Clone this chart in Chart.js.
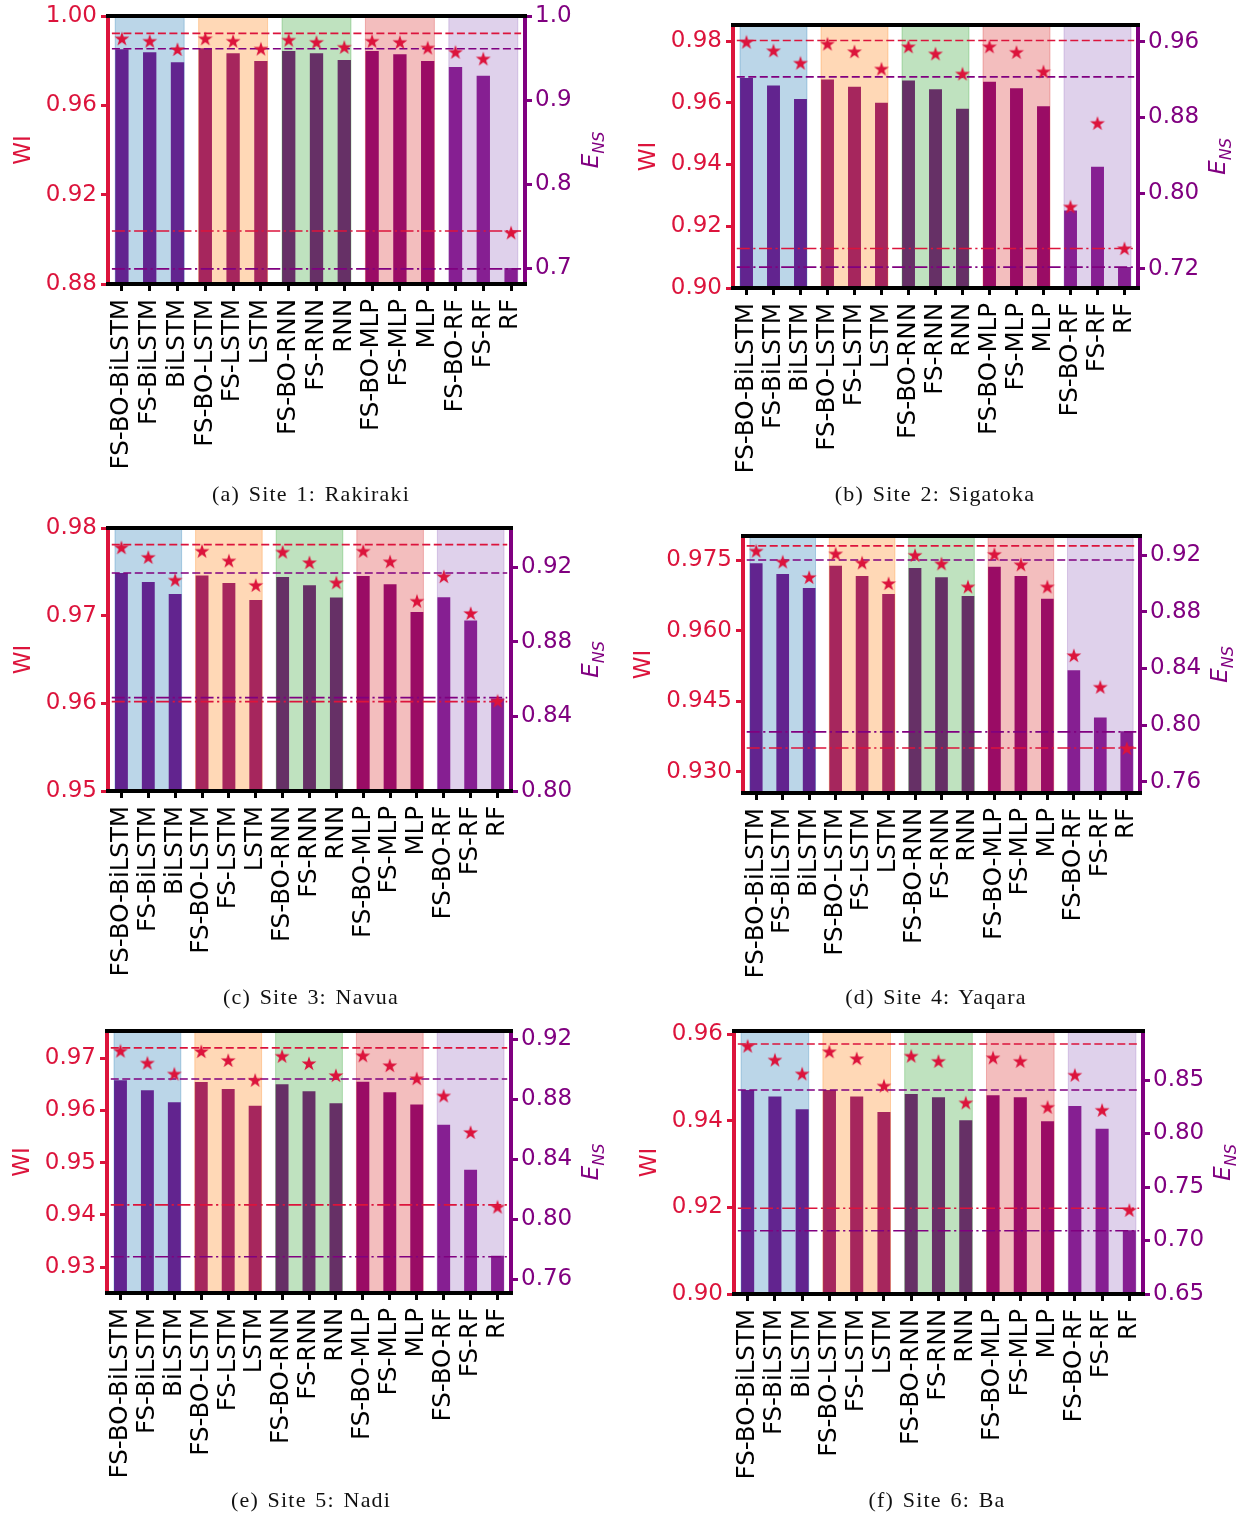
<!DOCTYPE html>
<html>
<head>
<meta charset="utf-8">
<script src="https://cdn.jsdelivr.net/npm/chart.js@4.4.1/dist/chart.umd.min.js"></script>
<style>
  html, body { margin: 0; padding: 0; background: #fff; }
  body { position: relative; width: 1239px; height: 1514px; overflow: hidden; }
  canvas { position: absolute; }
  .cap {
    position: absolute; white-space: nowrap; color: #111;
    font-family: "Liberation Serif", "DejaVu Serif", serif; font-size: 22px;
    letter-spacing: 1.2px; word-spacing: 2px;
    transform: translate(-50%, -50%);
  }
</style>
</head>
<body>
<script>
// ---- data -------------------------------------------------------------
const models = ['FS-BO-BiLSTM', 'FS-BiLSTM', 'BiLSTM', 'FS-BO-LSTM', 'FS-LSTM', 'LSTM',
                'FS-BO-RNN', 'FS-RNN', 'RNN', 'FS-BO-MLP', 'FS-MLP', 'MLP',
                'FS-BO-RF', 'FS-RF', 'RF'];
// model families shaded behind the bars (first and last index of each family)
const families = [[0, 2], [3, 5], [6, 8], [9, 11], [12, 14]];

const captions = ['(a) Site 1: Rakiraki', '(b) Site 2: Sigatoka', '(c) Site 3: Navua',
                  '(d) Site 4: Yaqara', '(e) Site 5: Nadi', '(f) Site 6: Ba'];

// Willmott index (stars, left axis) and Nash–Sutcliffe efficiency (bars, right axis)
const wiRakiraki  = [0.9896, 0.9885, 0.9848, 0.9896, 0.9885, 0.9850, 0.9890, 0.9880, 0.9858, 0.9885, 0.9880, 0.9855, 0.9836, 0.9806, 0.9027];
const ensRakiraki = [0.9604, 0.9568, 0.9449, 0.9615, 0.9556, 0.9464, 0.9583, 0.9556, 0.9476, 0.9583, 0.9544, 0.9464, 0.9393, 0.9290, 0.7000];
const wiSigatoka  = [0.9795, 0.9767, 0.9727, 0.9789, 0.9764, 0.9708, 0.9780, 0.9757, 0.9692, 0.9780, 0.9762, 0.9699, 0.9261, 0.9532, 0.9126];
const ensSigatoka = [0.9217, 0.9136, 0.8994, 0.9199, 0.9122, 0.8955, 0.9189, 0.9096, 0.8891, 0.9175, 0.9107, 0.8916, 0.7815, 0.8278, 0.7217];
const wiNavua     = [0.9777, 0.9766, 0.9740, 0.9773, 0.9762, 0.9734, 0.9772, 0.9760, 0.9737, 0.9773, 0.9761, 0.9716, 0.9744, 0.9702, 0.9602];
const ensNavua    = [0.9168, 0.9120, 0.9055, 0.9154, 0.9114, 0.9023, 0.9147, 0.9102, 0.9036, 0.9152, 0.9107, 0.8959, 0.9038, 0.8913, 0.8495];
const wiYaqara    = [0.9768, 0.9745, 0.9712, 0.9762, 0.9743, 0.9699, 0.9759, 0.9741, 0.9692, 0.9761, 0.9739, 0.9692, 0.9546, 0.9479, 0.9349];
const ensYaqara   = [0.9141, 0.9066, 0.8967, 0.9125, 0.9052, 0.8925, 0.9108, 0.9043, 0.8911, 0.9118, 0.9052, 0.8892, 0.8388, 0.8055, 0.7958];
const wiNadi      = [0.9713, 0.9690, 0.9669, 0.9712, 0.9695, 0.9657, 0.9703, 0.9689, 0.9666, 0.9704, 0.9685, 0.9660, 0.9627, 0.9557, 0.9414];
const ensNadi     = [0.8927, 0.8860, 0.8780, 0.8915, 0.8869, 0.8757, 0.8900, 0.8853, 0.8773, 0.8917, 0.8847, 0.8764, 0.8629, 0.8329, 0.7755];
const wiBa        = [0.9571, 0.9539, 0.9507, 0.9558, 0.9542, 0.9479, 0.9548, 0.9536, 0.9440, 0.9544, 0.9536, 0.9430, 0.9504, 0.9423, 0.9192];
const ensBa       = [0.8407, 0.8347, 0.8226, 0.8407, 0.8347, 0.8201, 0.8369, 0.8338, 0.8123, 0.8357, 0.8338, 0.8114, 0.8257, 0.8045, 0.7095];

// reference levels [upper (dashed), lower (dash-dot)]
const wiRefRakiraki = [0.9922, 0.9037], ensRefRakiraki = [0.9610, 0.6990];
const wiRefSigatoka = [0.9802, 0.9128], ensRefSigatoka = [0.9228, 0.7217];
const wiRefNavua    = [0.9781, 0.9602], ensRefNavua    = [0.9168, 0.8500];
const wiRefYaqara   = [0.9780, 0.9351], ensRefYaqara   = [0.9165, 0.7953];
const wiRefNadi     = [0.9720, 0.9419], ensRefNadi     = [0.8935, 0.7749];
const wiRefBa       = [0.9577, 0.9198], ensRefBa       = [0.8407, 0.7091];

// tick labels of each axis
const wiTicksRakiraki = [0.88, 0.92, 0.96, 1.00], ensTicksRakiraki = [0.7, 0.8, 0.9, 1.0];
const wiTicksSigatoka = [0.90, 0.92, 0.94, 0.96, 0.98], ensTicksSigatoka = [0.72, 0.80, 0.88, 0.96];
const wiTicksNavua    = [0.95, 0.96, 0.97, 0.98], ensTicksNavua = [0.80, 0.84, 0.88, 0.92];
const wiTicksYaqara   = [0.930, 0.945, 0.960, 0.975], ensTicksYaqara = [0.76, 0.80, 0.84, 0.88, 0.92];
const wiTicksNadi     = [0.93, 0.94, 0.95, 0.96, 0.97], ensTicksNadi = [0.76, 0.80, 0.84, 0.88, 0.92];
const wiTicksBa       = [0.90, 0.92, 0.94, 0.96], ensTicksBa = [0.65, 0.70, 0.75, 0.80, 0.85];

// ---- styling / layout -------------------------------------------------
const CRIMSON = '#dc143c';
const PURPLE = '#800080';
const FAMILY_COLORS = ['#1f77b4', '#ff7f0e', '#2ca02c', '#d62728', '#9467bd'];
const FONT = 'DejaVu Sans';
const TICK_SIZE = 23;
const XLABEL_SIZE = 24.5;
const LEFT_W = 125, RIGHT_W = 110, TOP_PAD = 22, BOTTOM_H = 200;

// plot box [left, right, top, bottom], axis ranges and label decimals per panel
const panels = [
  { box: [108, 525, 16, 284],   wiRange: [0.88, 1.00],       ensRange: [0.681, 1.0],      wiDec: 2, ensDec: 1,
    wi: wiRakiraki, ens: ensRakiraki, wiRef: wiRefRakiraki, ensRef: ensRefRakiraki, wiTicks: wiTicksRakiraki, ensTicks: ensTicksRakiraki, cap: [311, 494] },
  { box: [733, 1138, 25, 288],  wiRange: [0.90, 0.9852],     ensRange: [0.6996, 0.9776],  wiDec: 2, ensDec: 2,
    wi: wiSigatoka, ens: ensSigatoka, wiRef: wiRefSigatoka, ensRef: ensRefSigatoka, wiTicks: wiTicksSigatoka, ensTicks: ensTicksSigatoka, cap: [935, 494] },
  { box: [108, 511, 528, 791],  wiRange: [0.95, 0.98],       ensRange: [0.80, 0.9409],    wiDec: 2, ensDec: 2,
    wi: wiNavua, ens: ensNavua, wiRef: wiRefNavua, ensRef: ensRefNavua, wiTicks: wiTicksNavua, ensTicks: ensTicksNavua, cap: [311, 997] },
  { box: [743, 1140, 536, 793], wiRange: [0.92554, 0.9801],  ensRange: [0.7522, 0.9334],  wiDec: 3, ensDec: 2,
    wi: wiYaqara, ens: ensYaqara, wiRef: wiRefYaqara, ensRef: ensRefYaqara, wiTicks: wiTicksYaqara, ensTicks: ensTicksYaqara, cap: [936, 997] },
  { box: [107, 511, 1031, 1293], wiRange: [0.92502, 0.97523], ensRange: [0.75067, 0.92553], wiDec: 2, ensDec: 2,
    wi: wiNadi, ens: ensNadi, wiRef: wiRefNadi, ensRef: ensRefNadi, wiTicks: wiTicksNadi, ensTicks: ensTicksNadi, cap: [311, 1500] },
  { box: [734, 1143, 1031, 1294], wiRange: [0.90, 0.9607],   ensRange: [0.65, 0.8958],    wiDec: 2, ensDec: 2,
    wi: wiBa, ens: ensBa, wiRef: wiRefBa, ensRef: ensRefBa, wiTicks: wiTicksBa, ensTicks: ensTicksBa, cap: [937, 1500] }
];

Chart.defaults.font.family = FONT;

// filled five-pointed star used as the WI marker
function starSprite(r, color) {
  const s = Math.ceil(2 * r + 2);
  const c = document.createElement('canvas');
  c.width = s; c.height = s;
  const g = c.getContext('2d');
  g.translate(s / 2, s / 2);
  g.beginPath();
  for (let k = 0; k < 10; k++) {
    const rr = k % 2 ? r * 0.382 : r;
    const ang = -Math.PI / 2 + k * Math.PI / 5;
    g.lineTo(rr * Math.cos(ang), rr * Math.sin(ang));
  }
  g.closePath();
  g.fillStyle = color;
  g.fill();
  return c;
}
const STAR = starSprite(7.8, CRIMSON);

function hexA(hex, a) {
  const n = parseInt(hex.slice(1), 16);
  return `rgba(${n >> 16},${(n >> 8) & 255},${n & 255},${a})`;
}

// shaded families, reference lines, spines and axis titles
function decoPlugin(p) {
  return {
    id: 'panelDeco',
    afterDatasetDraw(chart, args) {
      if (args.index !== 0) return;
      const { ctx, chartArea: a, scales } = chart;
      const xs = scales.x;
      const half = chart.getDatasetMeta(0).data[0].width / 2;
      ctx.save();
      ctx.beginPath();
      ctx.rect(a.left, a.top, a.right - a.left, a.bottom - a.top);
      ctx.clip();
      families.forEach((f, i) => {
        const x0 = xs.getPixelForValue(f[0]) - half;
        const x1 = xs.getPixelForValue(f[1]) + half;
        ctx.fillStyle = hexA(FAMILY_COLORS[i], 0.3);
        ctx.fillRect(x0, a.top, x1 - x0, a.bottom - a.top);
        ctx.strokeStyle = hexA(FAMILY_COLORS[i], 0.3);
        ctx.lineWidth = 1;
        ctx.strokeRect(x0, a.top, x1 - x0, a.bottom - a.top);
      });
      const step = xs.getPixelForValue(1) - xs.getPixelForValue(0);
      const xa = xs.getPixelForValue(0) - 0.36 * step;
      const xb = xs.getPixelForValue(models.length - 1) + 0.36 * step;
      const hline = (yPix, color, dash) => {
        ctx.beginPath();
        ctx.setLineDash(dash);
        ctx.strokeStyle = color;
        ctx.lineWidth = 1.6;
        ctx.moveTo(xa, yPix);
        ctx.lineTo(xb, yPix);
        ctx.stroke();
      };
      const DASH = [8, 3.5], DASHDOT = [13, 3.5, 2.2, 3.5];
      hline(scales.y.getPixelForValue(p.wiRef[0]), CRIMSON, DASH);
      hline(scales.y.getPixelForValue(p.wiRef[1]), CRIMSON, DASHDOT);
      hline(scales.y1.getPixelForValue(p.ensRef[0]), PURPLE, DASH);
      hline(scales.y1.getPixelForValue(p.ensRef[1]), PURPLE, DASHDOT);
      ctx.restore();
    },
    afterDraw(chart) {
      const { ctx, chartArea: a } = chart;
      ctx.save();
      ctx.setLineDash([]);
      ctx.lineWidth = 4;
      ctx.strokeStyle = CRIMSON;
      ctx.beginPath(); ctx.moveTo(a.left, a.top - 2); ctx.lineTo(a.left, a.bottom + 2); ctx.stroke();
      ctx.strokeStyle = PURPLE;
      ctx.beginPath(); ctx.moveTo(a.right, a.top - 2); ctx.lineTo(a.right, a.bottom + 2); ctx.stroke();
      ctx.strokeStyle = '#000';
      ctx.beginPath(); ctx.moveTo(a.left - 2, a.top); ctx.lineTo(a.right + 2, a.top); ctx.stroke();
      ctx.beginPath(); ctx.moveTo(a.left - 2, a.bottom); ctx.lineTo(a.right + 2, a.bottom); ctx.stroke();

      // axis titles
      ctx.font = `${TICK_SIZE}px "${FONT}"`;
      const wMax = Math.max(...p.wiTicks.map(v => ctx.measureText(v.toFixed(p.wiDec)).width));
      const eMax = Math.max(...p.ensTicks.map(v => ctx.measureText(v.toFixed(p.ensDec)).width));
      const cy = (a.top + a.bottom) / 2;

      ctx.fillStyle = CRIMSON;
      ctx.textAlign = 'center';
      ctx.textBaseline = 'middle';
      ctx.save();
      ctx.translate(a.left - 11 - wMax - 22, cy);
      ctx.rotate(-Math.PI / 2);
      ctx.fillText('WI', 0, 0);
      ctx.restore();

      ctx.fillStyle = PURPLE;
      ctx.save();
      ctx.translate(a.right + 10 + eMax + 22, cy);
      ctx.rotate(-Math.PI / 2);
      ctx.textAlign = 'left';
      ctx.font = `italic ${TICK_SIZE}px "${FONT}"`;
      const wE = ctx.measureText('E').width;
      ctx.font = `italic 16px "${FONT}"`;
      const wNS = ctx.measureText('NS').width;
      const x0 = -(wE + wNS) / 2;
      ctx.font = `italic ${TICK_SIZE}px "${FONT}"`;
      ctx.fillText('E', x0, -2);
      ctx.font = `italic 16px "${FONT}"`;
      ctx.fillText('NS', x0 + wE, 6);
      ctx.restore();
      ctx.restore();
    }
  };
}

panels.forEach((p, i) => {
  const [L, R, T, B] = p.box;
  const cv = document.createElement('canvas');
  const W = LEFT_W + (R - L) + RIGHT_W;
  const H = TOP_PAD + (B - T) + BOTTOM_H;
  cv.width = W; cv.height = H;
  cv.style.left = (L - LEFT_W) + 'px';
  cv.style.top = (T - TOP_PAD) + 'px';
  cv.style.width = W + 'px';
  cv.style.height = H + 'px';
  document.body.appendChild(cv);

  new Chart(cv.getContext('2d'), {
    type: 'bar',
    data: {
      labels: models,
      datasets: [
        { type: 'bar', label: 'ENS', data: p.ens, yAxisID: 'y1', backgroundColor: PURPLE,
          borderWidth: 0, barPercentage: 0.48, categoryPercentage: 1.0, order: 2, clip: 0 },
        { type: 'line', label: 'WI', data: p.wi, yAxisID: 'y', showLine: false,
          pointStyle: STAR, pointRadius: 7, pointHoverRadius: 7, order: 1 }
      ]
    },
    options: {
      responsive: false, animation: false, devicePixelRatio: 1,
      layout: { padding: { top: TOP_PAD, left: 0, right: 0, bottom: 0 } },
      plugins: { legend: { display: false }, tooltip: { enabled: false } },
      scales: {
        x: {
          offset: true,
          grid: { display: true, drawOnChartArea: false, drawTicks: true, tickLength: 7, tickWidth: 3,
                  tickColor: '#000', offset: false },
          border: { display: false },
          ticks: { color: '#000', font: { size: XLABEL_SIZE }, maxRotation: 90, minRotation: 90,
                   autoSkip: false, padding: 8 },
          afterFit: s => { s.height = BOTTOM_H; }
        },
        y: {
          position: 'left', min: p.wiRange[0], max: p.wiRange[1],
          grid: { display: true, drawOnChartArea: false, tickLength: 7, tickWidth: 3, tickColor: CRIMSON },
          border: { display: false },
          ticks: { color: CRIMSON, font: { size: TICK_SIZE }, padding: 4,
                   callback: v => Number(v).toFixed(p.wiDec) },
          afterBuildTicks: s => { s.ticks = p.wiTicks.map(v => ({ value: v })); },
          afterFit: s => { s.width = LEFT_W; }
        },
        y1: {
          position: 'right', min: p.ensRange[0], max: p.ensRange[1],
          grid: { display: true, drawOnChartArea: false, tickLength: 7, tickWidth: 3, tickColor: PURPLE },
          border: { display: false },
          ticks: { color: PURPLE, font: { size: TICK_SIZE }, padding: 3,
                   callback: v => Number(v).toFixed(p.ensDec) },
          afterBuildTicks: s => { s.ticks = p.ensTicks.map(v => ({ value: v })); },
          afterFit: s => { s.width = RIGHT_W; }
        }
      }
    },
    plugins: [decoPlugin(p)]
  });

  const cap = document.createElement('div');
  cap.className = 'cap';
  cap.textContent = captions[i];
  cap.style.left = p.cap[0] + 'px';
  cap.style.top = p.cap[1] + 'px';
  document.body.appendChild(cap);
});
</script>
</body>
</html>
